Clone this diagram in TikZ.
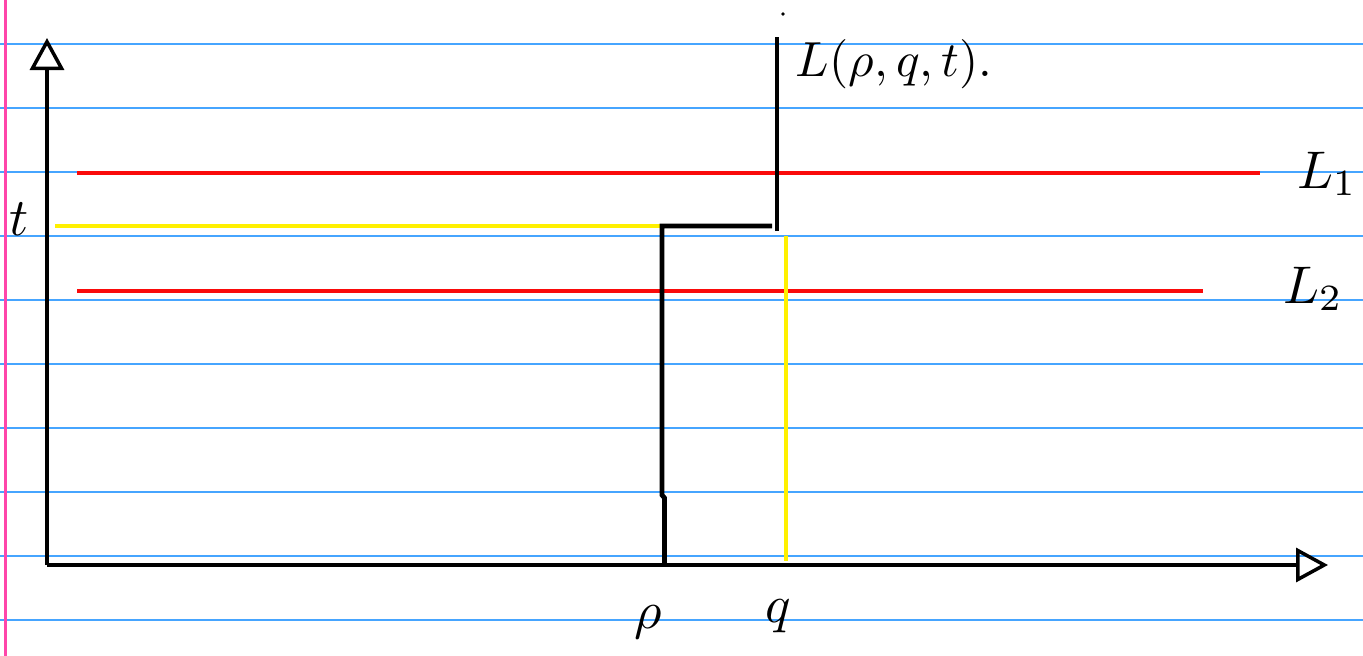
\documentclass[tikz,border=0pt]{standalone}
\usetikzlibrary{arrows.meta}
\definecolor{ruleblue}{RGB}{70,165,255}
\definecolor{marginpink}{RGB}{255,70,170}
\definecolor{penred}{RGB}{250,10,10}
\definecolor{penyellow}{RGB}{255,240,0}
\tikzset{
  ruled/.style={ruleblue, line width=1.4pt},
  margin/.style={marginpink, line width=3pt},
  axis/.style={black, line width=4.8pt, -{Triangle[open, length=32pt, width=34pt, line width=3.5pt]}},
  redline/.style={penred, line width=4.8pt},
  yelline/.style={penyellow, line width=4.8pt},
  blackline/.style={black, line width=4.8pt, line join=miter},
  hand/.style={inner sep=0pt, scale=5.3},
}
\begin{document}
\begin{tikzpicture}[x=1pt, y=-1pt]
\useasboundingbox (0,0) rectangle (1363,656);
\fill[white] (0,0) rectangle (1363,656);
% notebook ruling
\foreach \yy in {44,108,172,236,300,364,428,492,556,620}
  \draw[ruled] (0,\yy) -- (1363,\yy);
\draw[margin] (5.5,0) -- (5.5,656);
% coordinates
\coordinate (O) at (47,565);
\coordinate (ytip) at (47,38);
\coordinate (xtip) at (1328,565);
\coordinate (L1a) at (77,173);
\coordinate (L1b) at (1260,173);
\coordinate (L2a) at (77,291);
\coordinate (L2b) at (1203,291);
\coordinate (ya) at (55,226);
\coordinate (yb) at (660,226);
\coordinate (qa) at (786,236);
\coordinate (qb) at (786,561);
\coordinate (pa) at (664.5,565);
\coordinate (pk1) at (664.5,498);
\coordinate (pk2) at (662,495);
\coordinate (pc) at (662,226);
\coordinate (pd) at (772,226);
\coordinate (la) at (777,231);
\coordinate (lb) at (777,37);
% lines
\draw[redline] (L1a) -- (L1b);
\draw[redline] (L2a) -- (L2b);
\draw[yelline] (ya) -- (yb);
\draw[yelline] (qa) -- (qb);
\draw[blackline] (pa) -- (pk1) -- (pk2) -- (pc) -- (pd);
\draw[blackline] (la) -- (lb);
\fill (783,14) circle (1.8pt);
% axes
\draw[axis] (O) -- (ytip);
\draw[axis] (O) -- (xtip);
% labels
\node[hand, scale=0.93, anchor=base west] (Llab) at (795,76) {$L(\rho,q,t).$};
\node[hand, anchor=base west] (L1lab) at (1296,188) {$L_1$};
\node[hand, anchor=base west] (L2lab) at (1282,303) {$L_2$};
\node[hand, anchor=base west] (tlab) at (8,235) {$t$};
\node[hand, anchor=base] (plab) at (648,628) {$\rho$};
\node[hand, anchor=base] (qlab) at (778,622) {$q$};
\end{tikzpicture}
\end{document}
